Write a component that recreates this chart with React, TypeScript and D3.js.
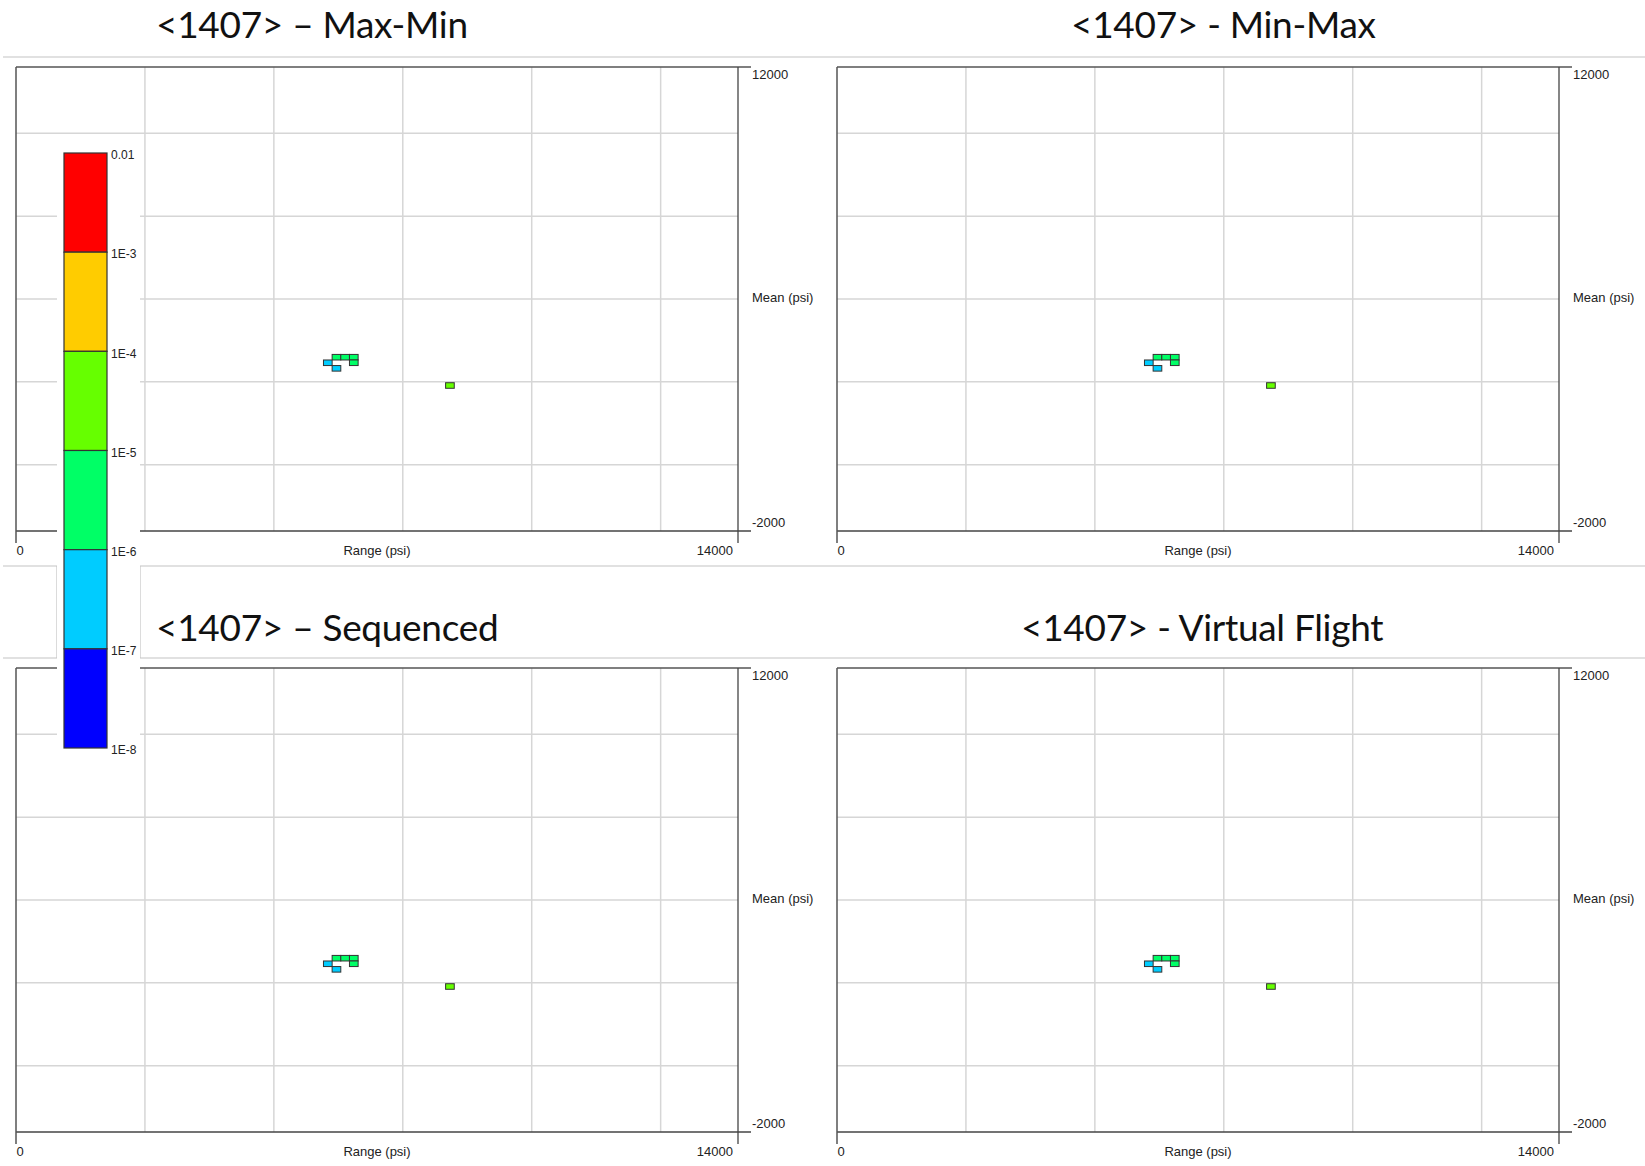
import React from "react";
import * as d3 from "d3";

// Rainflow-style histogram: Range vs Mean (psi), cells coloured by probability
const panelTitles = [
  "<1407> – Max-Min",
  "<1407> - Min-Max",
  "<1407> – Sequenced",
  "<1407> - Virtual Flight",
];

// Bin lower-left corners (psi) and probability of each occupied cell
const binSize = 168;
const cellRange = [6130, 6298, 6466, 5962, 6466, 6130, 8330];
const cellMean = [3160, 3160, 3160, 2992, 2992, 2824, 2306];
const cellProb = [3e-6, 3e-6, 3e-6, 4e-7, 2e-6, 5e-7, 2e-5];

// Probability legend bands (top to bottom)
const legendLabels = ["0.01", "1E-3", "1E-4", "1E-5", "1E-6", "1E-7", "1E-8"];
const legendBreaks = [1e-2, 1e-3, 1e-4, 1e-5, 1e-6, 1e-7, 1e-8];
const legendColors = ["#ff0000", "#ffcc00", "#66ff00", "#00ff66", "#00ccff", "#0000ff"];

const rangeDomain = [0, 14000];
const meanDomain = [-2000, 12000];
const rangeGrid = [2500, 5000, 7500, 10000, 12500];
const meanGrid = [0, 2500, 5000, 7500, 10000];

const W = 1645;
const H = 1166;
const PW = 722;
const PH = 464;
const panelOrigins = [
  [16, 67],
  [837, 67],
  [16, 668],
  [837, 668],
];
const titlePos = [
  [156, 38],
  [1071, 38],
  [156, 641],
  [1021, 641],
];

const axisFont = "'Liberation Sans', Arial, sans-serif";
const titleFont = "Lato, 'Open Sans', sans-serif";
const textColor = "#222";

const colorFor = d3
  .scaleThreshold<number, string>()
  .domain([1e-7, 1e-6, 1e-5, 1e-4, 1e-3])
  .range(["#0000ff", "#00ccff", "#00ff66", "#66ff00", "#ffcc00", "#ff0000"]);

function Panel({ ox, oy }: { ox: number; oy: number }) {
  const x = d3.scaleLinear().domain(rangeDomain).range([0, PW]);
  const y = d3.scaleLinear().domain(meanDomain).range([PH, 0]);
  const cells = cellRange.map((r, i) => ({ r, m: cellMean[i], p: cellProb[i] }));
  return (
    <g transform={`translate(${ox},${oy})`}>
      {rangeGrid.map((v) => (
        <line key={"gx" + v} x1={x(v)} x2={x(v)} y1={0} y2={PH} stroke="#d6d6d6" strokeWidth={1.5} />
      ))}
      {meanGrid.map((v) => (
        <line key={"gy" + v} x1={0} x2={PW} y1={y(v)} y2={y(v)} stroke="#d6d6d6" strokeWidth={1.5} />
      ))}
      {/* frame, with end ticks extending outward */}
      <line x1={0} x2={PW + 13} y1={0} y2={0} stroke="#555" strokeWidth={1.5} />
      <line x1={0} x2={PW + 13} y1={PH} y2={PH} stroke="#444" strokeWidth={1.3} />
      <line x1={0} x2={0} y1={0} y2={PH + 12} stroke="#555" strokeWidth={1.5} />
      <line x1={PW} x2={PW} y1={0} y2={PH + 12} stroke="#444" strokeWidth={1.3} />
      {cells.map((c, i) => (
        <rect
          key={i}
          x={x(c.r)}
          y={y(c.m + binSize)}
          width={x(c.r + binSize) - x(c.r)}
          height={y(c.m) - y(c.m + binSize)}
          fill={colorFor(c.p)}
          stroke="#333"
          strokeWidth={1}
        />
      ))}
      <g fontFamily={axisFont} fontSize={13} fill={textColor}>
        <text x={PW + 14} y={9} dominantBaseline="middle">12000</text>
        <text x={PW + 14} y={PH - 7} dominantBaseline="middle">-2000</text>
        <text x={PW + 14} y={PH / 2} dominantBaseline="middle">Mean (psi)</text>
        <text x={4} y={PH + 21} textAnchor="middle" dominantBaseline="middle">{rangeDomain[0]}</text>
        <text x={PW - 5} y={PH + 21} textAnchor="end" dominantBaseline="middle">{rangeDomain[1]}</text>
        <text x={PW / 2} y={PH + 21} textAnchor="middle" dominantBaseline="middle">Range (psi)</text>
      </g>
    </g>
  );
}

function Legend() {
  const top = 153;
  const bottom = 748;
  const bx = 64;
  const bw = 43;
  const yl = d3.scaleLog().domain([legendBreaks[0], legendBreaks[legendBreaks.length - 1]]).range([top, bottom]);
  return (
    <g>
      <rect x={57} y={140} width={83} height={620} fill="#fff" />
      {legendColors.map((c, i) => (
        <rect
          key={c}
          x={bx}
          y={yl(legendBreaks[i])}
          width={bw}
          height={yl(legendBreaks[i + 1]) - yl(legendBreaks[i])}
          fill={c}
          stroke="#333"
          strokeWidth={1.2}
        />
      ))}
      {legendLabels.map((l, i) => (
        <text
          key={l}
          x={bx + bw + 4}
          y={yl(legendBreaks[i]) + 3}
          fontFamily={axisFont}
          fontSize={12}
          fill={textColor}
          dominantBaseline="middle"
        >
          {l}
        </text>
      ))}
    </g>
  );
}

export default function App() {
  return (
    <svg
      width={W}
      height={H}
      viewBox={`0 0 ${W} ${H}`}
      style={{ position: "absolute", left: 0, top: 0, background: "#fff" }}
    >
      <rect x={0} y={0} width={W} height={H} fill="#fff" />
      {/* title band separators */}
      <line x1={3} x2={W} y1={57} y2={57} stroke="#c4c4c4" strokeWidth={1.2} />
      <line x1={3} x2={W} y1={566} y2={566} stroke="#c4c4c4" strokeWidth={1.2} />
      <line x1={3} x2={W} y1={658} y2={658} stroke="#c4c4c4" strokeWidth={1.2} />
      <line x1={57} x2={57} y1={566} y2={658} stroke="#c4c4c4" strokeWidth={1.2} />
      <line x1={140} x2={140} y1={566} y2={658} stroke="#c4c4c4" strokeWidth={1.2} />
      {panelOrigins.map(([ox, oy], i) => (
        <Panel key={i} ox={ox} oy={oy} />
      ))}
      {panelTitles.map((t, i) => (
        <text
          key={t}
          x={titlePos[i][0]}
          y={titlePos[i][1]}
          fontFamily={titleFont}
          fontSize={37}
          letterSpacing={-0.3}
          fill="#111"
        >
          {t}
        </text>
      ))}
      <Legend />
    </svg>
  );
}
